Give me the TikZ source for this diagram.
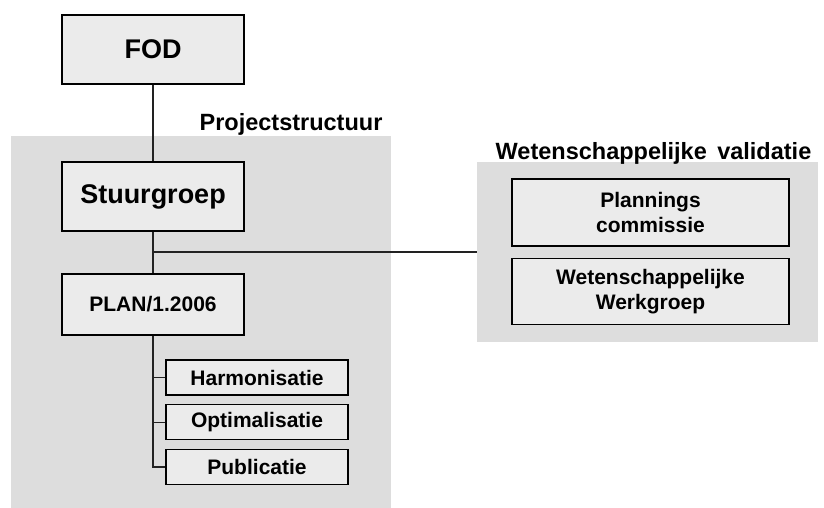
\documentclass[tikz,border=0pt]{standalone}
\usepackage{fontspec}
\setmainfont{Liberation Sans}
\usepackage{tikz}
\usetikzlibrary{positioning}

\definecolor{boxgray}{HTML}{EBEBEB}
\definecolor{panelgray}{HTML}{DDDDDD}
\definecolor{linegray}{HTML}{222222}

\begin{document}
\begin{tikzpicture}[x=1pt, y=-1pt, node distance=8.5pt,
    orgbox/.style={draw=black, line width=1.3pt, fill=boxgray, inner sep=0pt, align=center, font=\bfseries\fontsize{21}{25}\selectfont},
    bigbox/.style={orgbox, minimum width=182pt, minimum height=69pt, font=\bfseries\fontsize{27}{30}\selectfont},
    subbox/.style={orgbox, minimum width=182pt, minimum height=35pt},
    panel/.style={fill=panelgray, draw=none, inner sep=0pt},
    link/.style={draw=linegray, line width=1.3pt}]
        \useasboundingbox (0,0) rectangle (824,508);

        % Background panels
        \node[panel, anchor=north west, minimum width=380pt, minimum height=372pt] (projpanel) at (11,136) {};
        \node[panel, anchor=north west, minimum width=341pt, minimum height=180pt] (validpanel) at (477,162) {};

        % Panel titles
        \node[anchor=base, inner sep=0pt, font=\bfseries\fontsize{23.5}{26}\selectfont] (proj_label) at (291,131) {Projectstructuur};
        \node[anchor=base, inner sep=0pt, font=\bfseries\fontsize{23.5}{26}\selectfont] (valid_label) at (653.5,159) {Wetenschappelijke\ \,validatie};

        % Main chain
        \node[bigbox] (fod) at (153,49.5) {FOD};
        \node[bigbox] (stuur) at (153,196.5) {Stuurgroep};
        \node[orgbox, minimum width=182pt, minimum height=61pt] (plan) at (153,304.5) {PLAN/1.2006};

        % Work packages under the plan
        \node[subbox] (harm) at (257,377.5) {Harmonisatie};
        \node[subbox, below=of harm] (optim) {Optimalisatie};
        \node[subbox, below=of optim] (publ) {Publicatie};

        % Scientific validation
        \node[orgbox, minimum width=277pt, minimum height=67pt] (plancom) at (650.5,212.5) {Plannings\\commissie};
        \node[orgbox, minimum width=277pt, minimum height=66pt, below=11pt of plancom] (werkgr) {Wetenschappelijke\\Werkgroep};

        % Connectors
        \coordinate (split) at (153,252);
        \draw[link] (fod.south) -- (stuur.north);
        \draw[link] (stuur.south) -- (plan.north);
        \draw[link] (split) -- (split -| validpanel.west);
        \draw[link] (plan.south) |- (publ.west);
        \draw[link] (harm.west) -- (harm.west -| plan.south);
        \draw[link] (optim.west) -- (optim.west -| plan.south);
\end{tikzpicture}
\end{document}
